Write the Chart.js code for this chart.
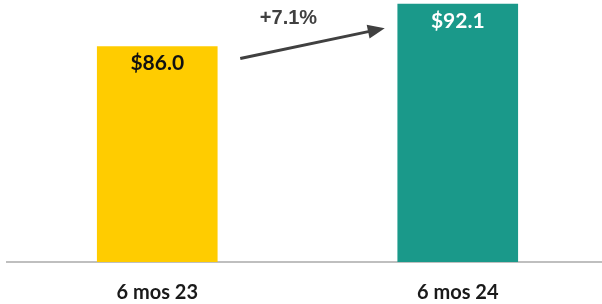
<!DOCTYPE html>
<html>
<head>
<meta charset="utf-8">
<script src="https://cdn.jsdelivr.net/npm/chart.js@4/dist/chart.umd.min.js"></script>
<style>
  html, body { margin: 0; padding: 0; background: #fff; overflow: hidden; }
  #wrap { width: 608px; height: 304px; }
</style>
</head>
<body>
<div id="wrap"><canvas id="chart"></canvas></div>
<script>
const periods = ['6 mos 23', '6 mos 24'];
const sales = [86.0, 92.1];
const barColors = ['#FFCC00', '#1A998A'];
const valueLabels = ['$86.0', '$92.1'];
const labelColors = ['#111111', '#ffffff'];
const growthLabel = '+7.1%';

// value labels inside the bars + growth arrow between them
const barText = {
  id: 'barText',
  afterDatasetsDraw(chart) {
    const ctx = chart.ctx;
    const bars = chart.getDatasetMeta(0).data;
    ctx.save();
    ctx.font = 'bold 21px Lato';
    ctx.textAlign = 'center';
    ctx.textBaseline = 'middle';
    bars.forEach((b, i) => {
      ctx.fillStyle = labelColors[i];
      ctx.fillText(valueLabels[i], b.x, b.y + 17);
    });

    // arrow
    const a = bars[0], c = bars[1];
    const x1 = a.x + a.width / 2 + 23, y1 = a.y + 12;
    const x2 = c.x - c.width / 2 - 13, y2 = c.y + 24;
    const ang = Math.atan2(y2 - y1, x2 - x1);
    ctx.strokeStyle = '#404040';
    ctx.fillStyle = '#404040';
    ctx.lineWidth = 3;
    ctx.beginPath();
    ctx.moveTo(x1, y1);
    ctx.lineTo(x2 - 12 * Math.cos(ang), y2 - 12 * Math.sin(ang));
    ctx.stroke();
    ctx.beginPath();
    ctx.moveTo(x2, y2);
    ctx.lineTo(x2 - 17 * Math.cos(ang) + 7 * Math.sin(ang), y2 - 17 * Math.sin(ang) - 7 * Math.cos(ang));
    ctx.lineTo(x2 - 17 * Math.cos(ang) - 7 * Math.sin(ang), y2 - 17 * Math.sin(ang) + 7 * Math.cos(ang));
    ctx.closePath();
    ctx.fill();

    ctx.font = 'bold 20px "Liberation Sans"';
    ctx.fillText(growthLabel, (x1 + x2) / 2 - 24, c.y + 14);
    ctx.restore();
  }
};

new Chart(document.getElementById('chart'), {
  type: 'bar',
  data: {
    labels: periods,
    datasets: [{
      data: sales,
      backgroundColor: barColors,
      barThickness: 120
    }]
  },
  options: {
    responsive: true,
    maintainAspectRatio: false,
    animation: false,
    layout: { padding: { left: 7, right: 0, top: 0, bottom: 0 } },
    plugins: { legend: { display: false }, tooltip: { enabled: false } },
    scales: {
      x: {
        grid: { display: false, drawTicks: false },
        border: { color: '#BFBFBF', width: 2 },
        ticks: {
          color: '#1a1a1a',
          font: { family: 'Lato', size: 20, weight: 'bold' },
          padding: 19
        },
        afterFit(scale) { scale.height = 42; }
      },
      y: {
        display: false,
        min: 55,
        max: 92.7
      }
    }
  },
  plugins: [barText]
});
</script>
</body>
</html>
